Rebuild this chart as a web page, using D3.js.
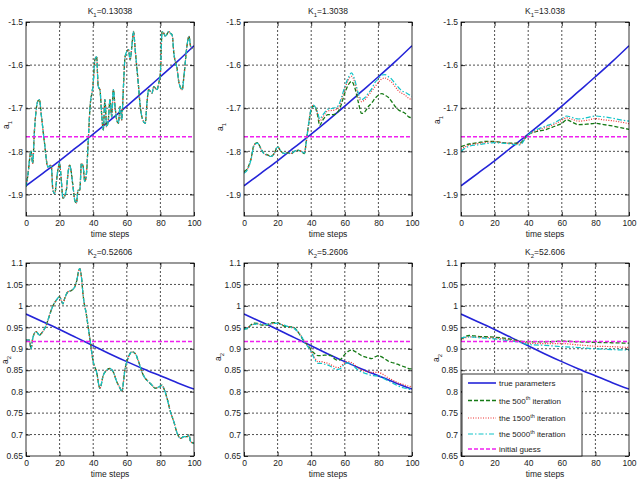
<!DOCTYPE html>
<html><head><meta charset="utf-8">
<script src="https://cdn.jsdelivr.net/npm/d3@7"></script>
<style>body{margin:0;background:#fff}svg{display:block;font-family:"Liberation Sans",Arial,sans-serif}</style>
</head><body><svg id="c" width="637" height="480"></svg>
<script>
// ---------------- DATA ----------------
const xTicks = [0, 20, 40, 60, 80, 100];
const yTicksA1 = [-1.9, -1.8, -1.7, -1.6, -1.5];
const yTicksA2 = [0.65, 0.7, 0.75, 0.8, 0.85, 0.9, 0.95, 1, 1.05, 1.1];
const titlesA1 = ["0.13038", "1.3038", "13.038"];
const titlesA2 = ["0.52606", "5.2606", "52.606"];
const legendLabels = ["true parameters", "the 500th iteration", "the 1500th iteration", "the 5000th iteration", "initial guess"];

const guessA1 = -1.766;
const guessA2 = 0.917;

const tTrue = [0, 10, 20, 30, 40, 50, 60, 70, 80, 90, 100];
const trueA1 = [-1.88, -1.851, -1.822, -1.791, -1.760, -1.728, -1.695, -1.661, -1.627, -1.592, -1.555];
const trueA2 = [0.981, 0.963, 0.945, 0.926, 0.907, 0.888, 0.870, 0.853, 0.837, 0.821, 0.806];

// panel 1 (K1=0.13038): all iterations overlap
const t1 = [0,1,3,4,5,7,8,9,11,13,15,16,17,19,20,21,22,24,25,26,28,29,30,31,32,33,34,35,36,37,38,40,41,42,43,44,45,46,47,48,49,50,51,52,53,54,55,56,57,58,59,61,62,63,64,65,67,68,69,71,72,73,75,76,78,79,80,81,82,83,85,86,87,88,90,91,93,94,96,97,98,99];
const p1Est = [-1.882,-1.859,-1.80,-1.828,-1.754,-1.684,-1.68,-1.712,-1.78,-1.836,-1.832,-1.89,-1.898,-1.843,-1.828,-1.867,-1.909,-1.89,-1.851,-1.832,-1.882,-1.913,-1.92,-1.89,-1.89,-1.828,-1.835,-1.87,-1.851,-1.78,-1.704,-1.642,-1.588,-1.58,-1.65,-1.657,-1.712,-1.75,-1.68,-1.743,-1.727,-1.68,-1.72,-1.657,-1.696,-1.727,-1.735,-1.696,-1.727,-1.65,-1.58,-1.564,-1.588,-1.557,-1.522,-1.564,-1.65,-1.696,-1.72,-1.735,-1.688,-1.657,-1.665,-1.65,-1.657,-1.642,-1.618,-1.522,-1.526,-1.533,-1.522,-1.526,-1.53,-1.572,-1.61,-1.64,-1.657,-1.626,-1.55,-1.533,-1.557,-1.562];

const t2 = [0,2,4,6,8,10,12,14,16,18,20,22,24,26,28,30,32,34,36,37,38,40,41,42,44,45,47,50,53,56,58,60,62,64,66,68,70,72,74,76,78,80,82,84,86,88,90,92,94,96,98,100];
const p2It500 = [-1.847,-1.84,-1.82,-1.785,-1.78,-1.793,-1.805,-1.808,-1.812,-1.805,-1.789,-1.80,-1.805,-1.803,-1.806,-1.80,-1.798,-1.80,-1.805,-1.78,-1.75,-1.704,-1.695,-1.696,-1.72,-1.74,-1.727,-1.715,-1.715,-1.708,-1.69,-1.665,-1.646,-1.638,-1.653,-1.685,-1.712,-1.708,-1.696,-1.688,-1.677,-1.67,-1.666,-1.67,-1.675,-1.685,-1.696,-1.704,-1.708,-1.712,-1.72,-1.722];
const p2It1500 = [-1.849,-1.842,-1.821,-1.786,-1.781,-1.794,-1.806,-1.809,-1.812,-1.805,-1.79,-1.80,-1.805,-1.803,-1.805,-1.80,-1.797,-1.80,-1.804,-1.78,-1.75,-1.70,-1.694,-1.695,-1.715,-1.73,-1.72,-1.706,-1.705,-1.70,-1.68,-1.655,-1.635,-1.626,-1.64,-1.67,-1.685,-1.68,-1.67,-1.66,-1.65,-1.64,-1.632,-1.63,-1.634,-1.64,-1.65,-1.66,-1.665,-1.67,-1.677,-1.68];
const p2It5000 = [-1.851,-1.843,-1.822,-1.787,-1.781,-1.794,-1.806,-1.809,-1.812,-1.805,-1.79,-1.80,-1.805,-1.803,-1.805,-1.80,-1.797,-1.80,-1.804,-1.78,-1.75,-1.70,-1.693,-1.695,-1.712,-1.725,-1.715,-1.702,-1.70,-1.695,-1.675,-1.65,-1.63,-1.618,-1.635,-1.665,-1.68,-1.675,-1.665,-1.655,-1.64,-1.632,-1.623,-1.622,-1.627,-1.633,-1.643,-1.652,-1.66,-1.663,-1.668,-1.672];

const t3 = [0,5,10,15,20,25,30,35,38,40,45,50,55,60,63,65,70,75,80,85,90,95,100];
const p3It500 = [-1.789,-1.783,-1.78,-1.777,-1.777,-1.78,-1.781,-1.781,-1.77,-1.762,-1.754,-1.75,-1.743,-1.735,-1.727,-1.73,-1.738,-1.737,-1.735,-1.738,-1.741,-1.745,-1.749];
const p3It1500 = [-1.795,-1.785,-1.782,-1.779,-1.778,-1.78,-1.782,-1.783,-1.771,-1.762,-1.752,-1.745,-1.738,-1.728,-1.722,-1.724,-1.73,-1.728,-1.724,-1.727,-1.729,-1.732,-1.736];
const p3It5000 = [-1.80,-1.788,-1.785,-1.782,-1.78,-1.781,-1.783,-1.785,-1.772,-1.762,-1.75,-1.742,-1.735,-1.724,-1.718,-1.72,-1.725,-1.722,-1.718,-1.72,-1.723,-1.727,-1.73];

// panel 4 (K2=0.52606): all iterations overlap
const t4 = [0,2,3,4,6,8,10,12,14,16,18,20,22,23,25,27,29,30,32,33,34,36,38,40,42,44,46,48,50,52,54,56,57,59,61,63,65,67,69,71,73,75,77,79,81,82,84,86,88,90,92,94,96,97,98,100];
const p4Est = [0.92,0.92,0.90,0.924,0.94,0.932,0.94,0.955,0.978,1.0,1.013,1.021,1.005,1.017,1.033,1.036,1.044,1.056,1.087,1.067,1.025,0.978,0.924,0.87,0.846,0.808,0.838,0.85,0.854,0.846,0.823,0.808,0.80,0.854,0.881,0.893,0.889,0.87,0.846,0.831,0.823,0.815,0.808,0.811,0.815,0.808,0.784,0.753,0.73,0.703,0.691,0.695,0.695,0.699,0.683,0.68];

const t5 = [0,2,4,6,8,10,12,14,16,18,20,22,24,26,28,30,32,34,36,38,40,42,44,46,48,50,52,54,56,58,60,62,64,66,68,70,72,74,76,78,80,82,84,86,88,90,92,94,96,98,100];
const p5It500 = [0.947,0.947,0.955,0.96,0.959,0.956,0.955,0.956,0.96,0.961,0.961,0.956,0.953,0.951,0.951,0.949,0.94,0.928,0.916,0.908,0.897,0.889,0.884,0.884,0.885,0.885,0.884,0.876,0.873,0.877,0.887,0.894,0.897,0.894,0.889,0.884,0.881,0.879,0.877,0.881,0.884,0.881,0.876,0.871,0.868,0.866,0.863,0.86,0.857,0.854,0.853];
const p5It1500 = [0.945,0.948,0.955,0.957,0.958,0.957,0.956,0.957,0.958,0.959,0.96,0.957,0.955,0.952,0.95,0.947,0.94,0.93,0.918,0.907,0.895,0.88,0.87,0.87,0.868,0.866,0.862,0.858,0.856,0.86,0.868,0.87,0.868,0.862,0.855,0.85,0.848,0.846,0.845,0.845,0.845,0.842,0.837,0.832,0.828,0.824,0.82,0.818,0.815,0.813,0.811];
const p5It5000 = [0.945,0.948,0.955,0.957,0.958,0.957,0.956,0.957,0.958,0.959,0.96,0.957,0.955,0.952,0.95,0.947,0.94,0.93,0.916,0.905,0.893,0.876,0.866,0.866,0.864,0.862,0.858,0.853,0.852,0.856,0.865,0.867,0.864,0.857,0.85,0.846,0.843,0.84,0.838,0.837,0.836,0.833,0.829,0.825,0.821,0.817,0.813,0.81,0.808,0.806,0.805];

const t6 = [0,5,10,20,30,35,40,50,60,70,80,90,100];
const p6It500 = [0.922,0.931,0.929,0.927,0.922,0.918,0.916,0.916,0.918,0.916,0.915,0.914,0.913];
const p6It1500 = [0.92,0.928,0.927,0.925,0.92,0.917,0.913,0.912,0.912,0.909,0.906,0.905,0.903];
const p6It5000 = [0.925,0.928,0.926,0.923,0.918,0.915,0.91,0.908,0.905,0.903,0.90,0.898,0.897];

// ---------------- STYLE ----------------
const styles = [
  {color: "#2424d8", width: 1.6, dash: null},
  {color: "#157a15", width: 1.3, dash: "4,2"},
  {color: "#ee3030", width: 1.2, dash: "1,1.5"},
  {color: "#10c4c8", width: 1.2, dash: "5,2,1.5,2"},
  {color: "#f020f0", width: 1.4, dash: "4,2"}
];

const panels = [
  {x0: 26, y0: 22, h: 194, sub: "1", k: titlesA1[0], dom: [-1.95, -1.5], ticks: yTicksA1, ylx: 9, yly: 125,
   truth: trueA1, guess: guessA1, est: [[t1, p1Est], [t1, p1Est], [t1, p1Est]]},
  {x0: 244, y0: 22, h: 194, sub: "1", k: titlesA1[1], dom: [-1.95, -1.5], ticks: yTicksA1, ylx: 223, yly: 127,
   truth: trueA1, guess: guessA1, est: [[t2, p2It500], [t2, p2It1500], [t2, p2It5000]]},
  {x0: 461, y0: 22, h: 194, sub: "1", k: titlesA1[2], dom: [-1.95, -1.5], ticks: yTicksA1, ylx: 440, yly: 120,
   truth: trueA1, guess: guessA1, est: [[t3, p3It500], [t3, p3It1500], [t3, p3It5000]]},
  {x0: 26, y0: 263, h: 193, sub: "2", k: titlesA2[0], dom: [0.65, 1.1], ticks: yTicksA2, ylx: 8, yly: 360,
   truth: trueA2, guess: guessA2, est: [[t4, p4Est], [t4, p4Est], [t4, p4Est]]},
  {x0: 244, y0: 263, h: 193, sub: "2", k: titlesA2[1], dom: [0.65, 1.1], ticks: yTicksA2, ylx: 221, yly: 357,
   truth: trueA2, guess: guessA2, est: [[t5, p5It500], [t5, p5It1500], [t5, p5It5000]]},
  {x0: 461, y0: 263, h: 193, sub: "2", k: titlesA2[2], dom: [0.65, 1.1], ticks: yTicksA2, ylx: 439, yly: 358,
   truth: trueA2, guess: guessA2, est: [[t6, p6It500], [t6, p6It1500], [t6, p6It5000]], legend: true}
];

const svg = d3.select("#c");
const PW = 168;
const FS = 8.5;
const fmt = v => String(+v.toFixed(2));

panels.forEach(p => {
  const x = d3.scaleLinear().domain([0, 100]).range([p.x0, p.x0 + PW]);
  const y = d3.scaleLinear().domain(p.dom).range([p.y0 + p.h, p.y0]);
  const g = svg.append("g");
  g.append("rect").attr("x", p.x0).attr("y", p.y0).attr("width", PW).attr("height", p.h).attr("fill", "#fff");

  // grid
  const gridX = xTicks.slice(1, -1);
  const gridY = p.ticks.filter(v => v > p.dom[0] + 1e-9 && v < p.dom[1] - 1e-9);
  g.selectAll(".gx").data(gridX).join("line")
    .attr("x1", d => x(d)).attr("x2", d => x(d)).attr("y1", p.y0).attr("y2", p.y0 + p.h)
    .attr("stroke", "#222").attr("stroke-width", 0.8).attr("stroke-dasharray", "2,2");
  g.selectAll(".gy").data(gridY).join("line")
    .attr("y1", d => y(d)).attr("y2", d => y(d)).attr("x1", p.x0).attr("x2", p.x0 + PW)
    .attr("stroke", "#222").attr("stroke-width", 0.8).attr("stroke-dasharray", "2,2");

  // axes
  const ax = d3.axisBottom(x).tickValues(xTicks).tickSize(-4).tickPadding(4).tickFormat(d3.format("d"));
  const ay = d3.axisLeft(y).tickValues(p.ticks).tickSize(-4).tickPadding(3).tickFormat(fmt);
  const axT = d3.axisTop(x).tickValues(xTicks).tickSize(-4).tickFormat("");
  const ayR = d3.axisRight(y).tickValues(p.ticks).tickSize(-4).tickFormat("");
  [[ax, `translate(0,${p.y0 + p.h})`], [ay, `translate(${p.x0},0)`], [axT, `translate(0,${p.y0})`], [ayR, `translate(${p.x0 + PW},0)`]]
    .forEach(([a, tr]) => {
      const ga = g.append("g").attr("transform", tr).call(a);
      ga.select(".domain").remove();
      ga.selectAll("line").attr("stroke", "#000").attr("stroke-width", 0.8);
      ga.selectAll("text").attr("font-size", FS).attr("fill", "#222").attr("font-family", "Liberation Sans, Arial, sans-serif");
    });

  // clip
  const cid = "clip" + p.x0 + "_" + p.y0;
  svg.append("clipPath").attr("id", cid).append("rect").attr("x", p.x0).attr("y", p.y0).attr("width", PW).attr("height", p.h);
  const gl = g.append("g").attr("clip-path", `url(#${cid})`);
  const line = d3.line().x(d => x(d[0])).y(d => y(d[1])).curve(d3.curveMonotoneX);

  const draw = (pts, s) => gl.append("path").attr("d", line(pts)).attr("fill", "none")
    .attr("stroke", s.color).attr("stroke-width", s.width).attr("stroke-dasharray", s.dash);

  draw(tTrue.map((t, i) => [t, p.truth[i]]), styles[0]);
  p.est.forEach((e, k) => draw(e[0].map((t, i) => [t, e[1][i]]), styles[k + 1]));
  draw([[0, p.guess], [100, p.guess]], styles[4]);

  // frame
  g.append("rect").attr("x", p.x0).attr("y", p.y0).attr("width", PW).attr("height", p.h)
    .attr("fill", "none").attr("stroke", "#000").attr("stroke-width", 0.8);

  // title
  const tt = g.append("text").attr("x", p.x0 + PW / 2).attr("y", p.y0 - 8).attr("text-anchor", "middle")
    .attr("font-size", FS).attr("fill", "#222");
  tt.append("tspan").text("K");
  tt.append("tspan").attr("font-size", 6).attr("dy", 2.5).text(p.sub);
  tt.append("tspan").attr("dy", -2.5).text("=" + p.k);

  // x label
  g.append("text").attr("x", p.x0 + PW / 2).attr("y", p.y0 + p.h + 21).attr("text-anchor", "middle")
    .attr("font-size", FS).attr("fill", "#222").text("time steps");

  // y label
  const yl = g.append("text").attr("transform", `translate(${p.ylx},${p.yly}) rotate(-90)`)
    .attr("text-anchor", "middle").attr("font-size", FS).attr("fill", "#222");
  yl.append("tspan").text("a");
  yl.append("tspan").attr("font-size", 6).attr("dy", 2.5).text(p.sub);

  // legend
  if (p.legend) {
    const lx = p.x0 + 1, ly = 374, lw = 120, lh = p.y0 + p.h - ly;
    const lg = g.append("g");
    lg.append("rect").attr("x", lx).attr("y", ly).attr("width", lw).attr("height", lh)
      .attr("fill", "#fff").attr("stroke", "#000").attr("stroke-width", 0.8);
    const rowY = [383, 400.5, 418, 434, 449];
    legendLabels.forEach((lab, i) => {
      const s = styles[i];
      lg.append("line").attr("x1", lx + 6).attr("x2", lx + 34).attr("y1", rowY[i]).attr("y2", rowY[i])
        .attr("stroke", s.color).attr("stroke-width", s.width).attr("stroke-dasharray", s.dash);
      const tx = lg.append("text").attr("x", lx + 37).attr("y", rowY[i] + 3).attr("font-size", 8).attr("fill", "#222");
      const m = lab.match(/^(the \d+)th( iteration)$/);
      if (m) {
        tx.append("tspan").text(m[1]);
        tx.append("tspan").attr("font-size", 5.5).attr("dy", -3.5).text("th");
        tx.append("tspan").attr("dy", 3.5).text(m[2]);
      } else tx.text(lab);
    });
  }
});
</script></body></html>
